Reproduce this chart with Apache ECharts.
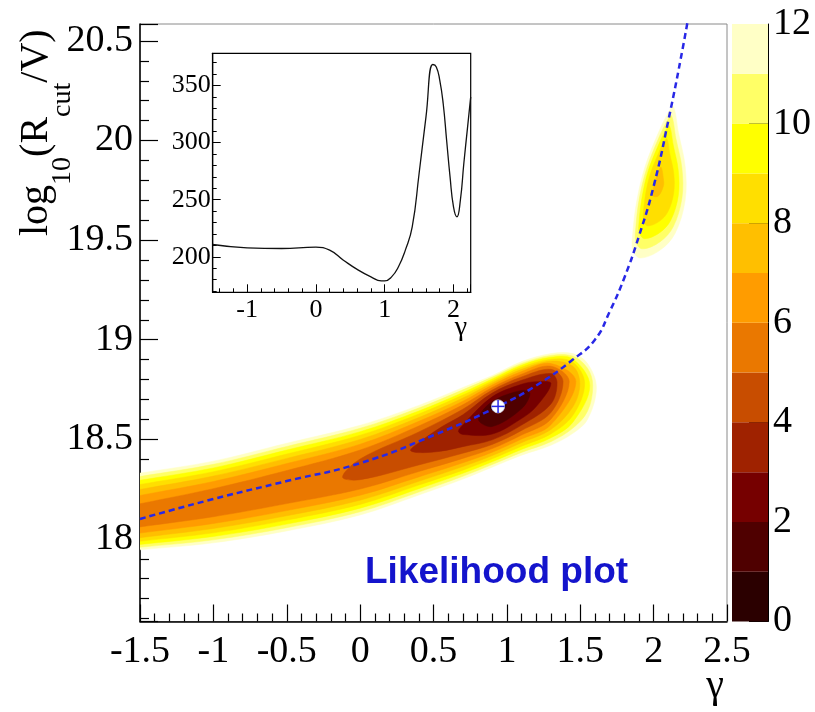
<!DOCTYPE html>
<html><head><meta charset="utf-8">
<script src="https://cdn.jsdelivr.net/npm/echarts@6/dist/echarts.min.js"></script>
<style>html,body{margin:0;padding:0;background:#fff}#c{width:815px;height:712px}</style>
</head><body><div id="c"></div><script>
// ---- fitted curve (blue dashed) ----
const lineGamma = [-1.5,-1.0,-0.5,0,0.5,0.94,1.2,1.45,1.6,1.7,1.8,1.9,2.0,2.1,2.2,2.26];
const lineLogR  = [18.10,18.20,18.29,18.38,18.52,18.665,18.77,18.90,19.00,19.14,19.31,19.52,19.77,20.10,20.47,20.72];
// ---- best fit point ----
const bestFit = [0.94, 18.665];
// ---- inset curve ----
const insetGamma = [-1.5,-1.0,-0.5,0,0.2,0.4,0.6,0.8,0.95,1.0,1.1,1.2,1.3,1.4,1.5,1.6,1.7,1.75,1.8,1.85,1.9,1.95,2.0,2.05,2.1,2.15,2.2,2.25];
const insetValue = [210.8,207.9,207.3,208.5,205.9,197.1,189,182.5,179,179,182.5,191.3,205.9,226.2,272.9,322.4,368.2,366.1,354.5,334.1,302,269.9,243.7,235,249.6,281.6,310.8,339.9];
// ---- colour scale ----
const bandEdges = [[0,1],[1,2],[2,3],[3,4],[4,5],[5,6],[6,7],[7,8],[8,9],[9,10],[10,11],[11,12]];
const bandColors = ['#2b0000','#4f0000','#760000','#9f2200','#c84d00','#ea7800','#ff9c00','#ffbf00','#ffdf00','#ffff00','#ffff66','#ffffc6'];
// ---- contour outlines (gamma, log10 R) for each level ----
const main12 = [[-1.8,18.294],[-1.5,18.33],[-1,18.39],[-0.5,18.48],[0,18.57],[0.4,18.67],[0.7,18.76],[0.9,18.82],[1.1,18.89],[1.3,18.93],[1.45,18.93],[1.55,18.88],[1.61,18.76],[1.55,18.60],[1.45,18.53],[1.3,18.47],[1.1,18.42],[0.9,18.36],[0.7,18.30],[0.4,18.22],[0,18.12],[-0.5,18.04],[-1,17.98],[-1.5,17.945],[-1.8,17.924]];
const main11 = [[-1.8,18.276],[-1.5,18.313],[-1,18.374],[-0.5,18.464],[0,18.555],[0.4,18.657],[0.7,18.748],[0.9,18.812],[1.1,18.881],[1.3,18.921],[1.45,18.917],[1.55,18.856],[1.585,18.77],[1.55,18.642],[1.45,18.556],[1.3,18.488],[1.1,18.434],[0.9,18.373],[0.7,18.314],[0.4,18.235],[0,18.136],[-0.5,18.056],[-1,17.995],[-1.5,17.958],[-1.8,17.936]];
const main10 = [[-1.8,18.257],[-1.5,18.294],[-1,18.356],[-0.5,18.446],[0,18.538],[0.4,18.642],[0.7,18.735],[0.9,18.803],[1.1,18.872],[1.3,18.912],[1.45,18.903],[1.565,18.77],[1.45,18.586],[1.3,18.507],[1.1,18.449],[0.9,18.387],[0.7,18.329],[0.4,18.252],[0,18.154],[-0.5,18.074],[-1,18.012],[-1.5,17.972],[-1.8,17.948]];
const main9 = [[-1.8,18.235],[-1.5,18.273],[-1,18.337],[-0.5,18.426],[0,18.520],[0.4,18.627],[0.7,18.722],[0.9,18.793],[1.1,18.862],[1.3,18.902],[1.45,18.887],[1.53,18.78],[1.45,18.620],[1.3,18.527],[1.1,18.465],[0.9,18.402],[0.7,18.345],[0.4,18.270],[0,18.173],[-0.5,18.094],[-1,18.030],[-1.5,17.988],[-1.8,17.963]];
const main8 = [[-1.8,18.208],[-1.5,18.248],[-1,18.315],[-0.5,18.404],[0,18.499],[0.4,18.609],[0.7,18.707],[0.9,18.783],[1.1,18.851],[1.3,18.892],[1.45,18.866],[1.497,18.78],[1.45,18.663],[1.3,18.549],[1.1,18.483],[0.9,18.418],[0.7,18.363],[0.4,18.289],[0,18.194],[-0.5,18.116],[-1,18.052],[-1.5,18.006],[-1.8,17.978]];
const main7 = [[-1.8,18.176],[-1.5,18.218],[-1,18.288],[-0.5,18.378],[0,18.475],[0.4,18.590],[0.7,18.691],[0.9,18.772],[1.1,18.840],[1.3,18.880],[1.47,18.79],[1.3,18.573],[1.1,18.501],[0.9,18.435],[0.7,18.382],[0.4,18.311],[0,18.219],[-0.5,18.142],[-1,18.077],[-1.5,18.029],[-1.8,18.0]];
const main6 = [[-1.8,18.130],[-1.5,18.176],[-1,18.252],[-0.5,18.343],[0,18.446],[0.4,18.567],[0.7,18.673],[0.9,18.760],[1.1,18.827],[1.3,18.867],[1.425,18.79],[1.3,18.601],[1.1,18.521],[0.9,18.453],[0.7,18.404],[0.4,18.338],[0,18.250],[-0.5,18.177],[-1,18.111],[-1.5,18.060],[-1.8,18.029]];
const main5 = [[-0.12,18.31],[0,18.401],[0.4,18.537],[0.7,18.651],[0.9,18.747],[1.1,18.813],[1.3,18.851],[1.383,18.79],[1.3,18.634],[1.1,18.544],[0.9,18.474],[0.7,18.430],[0.4,18.371],[0,18.297]];
const main4 = [[0.343,18.445],[0.4,18.483],[0.55,18.560],[0.7,18.623],[0.9,18.732],[1.1,18.796],[1.3,18.830],[1.342,18.785],[1.3,18.677],[1.1,18.571],[0.9,18.497],[0.7,18.463],[0.55,18.44],[0.4,18.433]];
const main3 = [[0.67,18.54],[0.7,18.572],[0.9,18.713],[1.1,18.776],[1.2,18.789],[1.3,18.78],[1.2,18.664],[1.1,18.604],[0.9,18.526],[0.7,18.524]];
const main2 = [[0.806,18.60],[0.9,18.689],[1.1,18.745],[1.157,18.73],[1.1,18.653],[0.9,18.564]];
const main1 = [[0.885,18.66],[0.94,18.69],[0.995,18.67],[0.94,18.635]];
const blob12 = [[2.135,20.17],[2.169,20.04],[2.215,19.87],[2.215,19.70],[2.147,19.535],[2.045,19.45],[1.908,19.41],[1.858,19.45],[1.858,19.535],[1.886,19.70],[1.942,19.87],[2.033,20.04],[2.10,20.14]];
const blob11 = [[2.122,20.124],[2.152,20.010],[2.193,19.860],[2.193,19.711],[2.133,19.566],[2.043,19.491],[1.923,19.456],[1.879,19.491],[1.879,19.566],[1.903,19.711],[1.953,19.860],[2.033,20.010],[2.092,20.098]];
const blob10 = [[2.108,20.073],[2.134,19.976],[2.168,19.850],[2.168,19.723],[2.117,19.600],[2.041,19.537],[1.939,19.507],[1.902,19.537],[1.902,19.600],[1.923,19.723],[1.964,19.850],[2.032,19.976],[2.082,20.051]];
const blob9 = [[2.091,20.009],[2.110,19.934],[2.137,19.836],[2.137,19.738],[2.098,19.643],[2.039,19.594],[1.960,19.571],[1.931,19.594],[1.931,19.643],[1.947,19.738],[1.979,19.836],[2.032,19.934],[2.070,19.992]];
const blob8 = [[2.051,19.866],[2.067,19.806],[2.067,19.772],[2.033,19.722],[1.996,19.722],[2.001,19.772],[2.031,19.84]];

const contourList = [
  [12, main12],[11, main11],[10, main10],[9, main9],[8, main8],[7, main7],[6, main6],
  [5, main5],[4, main4],[3, main3],[2, main2],[1, main1],
  [12, blob12],[11, blob11],[10, blob10],[9, blob9],[8, blob8]
];
const heatPolygons = contourList.map(([lvl, pts]) => ({points: pts, color: bandColors[lvl - 1]}));

const SERIF = 'Liberation Serif';
const chart = echarts.init(document.getElementById('c'), null, {renderer: 'canvas'});

function renderHeat(params, api) {
  const poly = heatPolygons[params.dataIndex];
  const pts = poly.points.map(p => api.coord(p));
  const cs = params.coordSys;
  return {
    type: 'polygon',
    shape: {points: pts, smooth: 0.35},
    style: {fill: poly.color, stroke: poly.color, lineWidth: 0.5},
    clipPath: {type: 'rect', shape: {x: cs.x, y: cs.y, width: cs.width, height: cs.height}}
  };
}
function renderMarker(params, api) {
  const c = api.coord([api.value(0), api.value(1)]);
  const r = 6.5;
  return {type: 'group', children: [
    {type: 'circle', shape: {cx: c[0], cy: c[1], r: r}, style: {fill: '#fff', stroke: '#d8d8ee', lineWidth: 0.8}},
    {type: 'line', shape: {x1: c[0] - r, y1: c[1], x2: c[0] + r, y2: c[1]}, style: {stroke: '#2828e6', lineWidth: 1.5}},
    {type: 'line', shape: {x1: c[0], y1: c[1] - r, x2: c[0], y2: c[1] + r}, style: {stroke: '#2828e6', lineWidth: 1.5}}
  ]};
}
function renderBand(params, api) {
  const lo = api.coord([0, api.value(0)]);
  const hi = api.coord([1, api.value(1)]);
  return {type: 'rect', shape: {x: lo[0], y: hi[1], width: hi[0] - lo[0], height: lo[1] - hi[1]},
    style: {fill: bandColors[params.dataIndex]}};
}

const mainLabel = {fontFamily: SERIF, fontSize: 38, color: '#000'};
const option = {
  animation: false,
  backgroundColor: '#fff',
  textStyle: {fontFamily: SERIF},
  grid: [
    {left: 140, top: 24, right: 88, bottom: 90.5, show: true, borderColor: '#8a8a8a', borderWidth: 1},
    {left: 212.7, top: 53.3, width: 258, height: 239, show: true, borderColor: '#000', borderWidth: 1.2, backgroundColor: '#fff'},
    {left: 732, top: 24, right: 47, bottom: 90.5}
  ],
  xAxis: [
    {gridIndex: 0, type: 'value', min: -1.5, max: 2.5, interval: 0.5,
      axisLine: {onZero: false, lineStyle: {color: '#000', width: 1.5}},
      axisTick: {inside: true, length: 17, lineStyle: {color: '#000', width: 1.2}},
      minorTick: {show: true, splitNumber: 5, length: 8, lineStyle: {color: '#000', width: 1.2}},
      axisLabel: Object.assign({margin: 12}, mainLabel), splitLine: {show: false}},
    {gridIndex: 1, type: 'value', min: -1.5, max: 2.25, splitNumber: 4,
      axisLine: {onZero: false, lineStyle: {color: '#000', width: 1.2}},
      axisTick: {inside: true, length: 8, lineStyle: {color: '#000', width: 1}},
      minorTick: {show: true, splitNumber: 5, length: 4, lineStyle: {color: '#000', width: 1}},
      axisLabel: {fontFamily: SERIF, fontSize: 26, color: '#000', margin: 5, showMinLabel: false, showMaxLabel: false},
      splitLine: {show: false}},
    {gridIndex: 2, type: 'value', min: 0, max: 1, show: false}
  ],
  yAxis: [
    {gridIndex: 0, type: 'value', min: 17.585, max: 20.585, splitNumber: 6,
      axisLine: {onZero: false, lineStyle: {color: '#000', width: 1.5}},
      axisTick: {inside: true, length: 18, lineStyle: {color: '#000', width: 1.2}},
      minorTick: {show: true, splitNumber: 5, length: 9, lineStyle: {color: '#000', width: 1.2}},
      axisLabel: Object.assign({margin: 7, showMinLabel: false, showMaxLabel: false}, mainLabel), splitLine: {show: false}},
    {gridIndex: 1, type: 'value', min: 169, max: 378, splitNumber: 4,
      axisLine: {onZero: false, lineStyle: {color: '#000', width: 1.2}},
      axisTick: {inside: true, length: 8, lineStyle: {color: '#000', width: 1}},
      minorTick: {show: true, splitNumber: 5, length: 4, lineStyle: {color: '#000', width: 1}},
      axisLabel: {fontFamily: SERIF, fontSize: 26, color: '#000', margin: 2, showMinLabel: false, showMaxLabel: false},
      splitLine: {show: false}},
    {gridIndex: 2, type: 'value', min: 0, max: 12, interval: 2, position: 'right',
      axisLine: {show: true, onZero: false, lineStyle: {color: '#000', width: 1}},
      axisTick: {show: true, inside: true, length: 19, lineStyle: {color: '#000', width: 1}},
      axisLabel: Object.assign({margin: 5}, mainLabel), splitLine: {show: false}}
  ],
  series: [
    {type: 'custom', xAxisIndex: 0, yAxisIndex: 0, renderItem: renderHeat,
      data: heatPolygons.map(() => [0, 18.5]), silent: true, z: 1},
    {type: 'line', xAxisIndex: 0, yAxisIndex: 0, data: lineGamma.map((g, i) => [g, lineLogR[i]]),
      smooth: true, symbol: 'none', clip: true,
      lineStyle: {color: '#2828e6', width: 2.5, type: [6, 4]}, z: 3},
    {type: 'custom', xAxisIndex: 0, yAxisIndex: 0, renderItem: renderMarker, data: [bestFit], z: 4},
    {type: 'line', xAxisIndex: 1, yAxisIndex: 1, data: insetGamma.map((g, i) => [g, insetValue[i]]),
      smooth: true, symbol: 'none', lineStyle: {color: '#111', width: 1.3}, z: 5},
    {type: 'custom', xAxisIndex: 2, yAxisIndex: 2, renderItem: renderBand, data: bandEdges, z: 1}
  ],
  graphic: [
    {type: 'text', x: 16, y: 236, rotation: Math.PI / 2, z: 10,
      style: {text: '{m|log}{s|10}{m|(R}{s|cut}{m|/V)}', align: 'left', verticalAlign: 'top', fill: '#000',
        rich: {m: {fontFamily: SERIF, fontSize: 40, lineHeight: 40, verticalAlign: 'top', fill: '#000'},
               s: {fontFamily: SERIF, fontSize: 28, lineHeight: 61, verticalAlign: 'bottom', fill: '#000'}}}},
    {type: 'text', x: 715, y: 706, z: 10,
      style: {text: 'γ', fontFamily: SERIF, fontSize: 40, fill: '#000', align: 'center', verticalAlign: 'bottom'}},
    {type: 'text', x: 461, y: 342, z: 10,
      style: {text: 'γ', fontFamily: SERIF, fontSize: 28, fill: '#000', align: 'center', verticalAlign: 'bottom'}},
    {type: 'text', x: 365, y: 554, z: 10,
      style: {text: 'Likelihood plot', fontFamily: 'Liberation Sans', fontWeight: 'bold', fontSize: 37, fill: '#1414cc', align: 'left', verticalAlign: 'top'}}
  ]
};
chart.setOption(option);
</script></body></html>
